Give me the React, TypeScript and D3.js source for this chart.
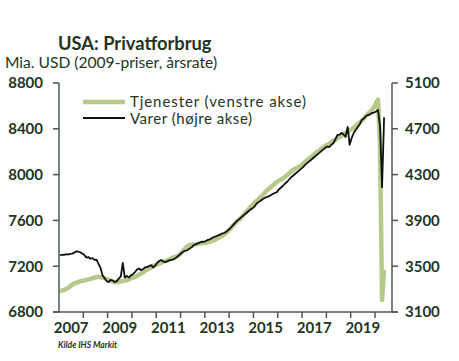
import React, { useRef, useEffect } from 'react';
import { select, scaleLinear, line } from 'd3';

// Monthly data, Jan 2007 - May 2020
const services: number[] = [
  6980, 6988, 6992, 7000, 7010, 7025, 7040, 7050, 7055, 7062, 7068, 7072, // 2007
  7075, 7080, 7085, 7090, 7095, 7100, 7105, 7108, 7104, 7100, 7095, 7088, // 2008
  7080, 7072, 7065, 7060, 7062, 7064, 7068, 7070, 7072, 7078, 7085, 7095, // 2009
  7100, 7106, 7115, 7125, 7135, 7145, 7160, 7170, 7180, 7190, 7200, 7210, // 2010
  7215, 7222, 7230, 7240, 7245, 7250, 7258, 7270, 7278, 7282, 7288, 7300, // 2011
  7320, 7340, 7360, 7375, 7385, 7388, 7390, 7392, 7395, 7398, 7400, 7403, // 2012
  7405, 7410, 7415, 7420, 7428, 7435, 7445, 7455, 7465, 7478, 7490, 7510, // 2013
  7525, 7545, 7565, 7585, 7600, 7615, 7635, 7655, 7675, 7695, 7715, 7735, // 2014
  7755, 7770, 7785, 7805, 7820, 7840, 7860, 7875, 7890, 7905, 7920, 7935, // 2015
  7945, 7955, 7965, 7980, 7995, 8010, 8025, 8040, 8050, 8060, 8070, 8080, // 2016
  8095, 8110, 8125, 8140, 8155, 8170, 8185, 8200, 8210, 8225, 8240, 8250, // 2017
  8260, 8270, 8285, 8295, 8305, 8320, 8330, 8340, 8355, 8365, 8375, 8390, // 2018
  8395, 8410, 8425, 8440, 8455, 8470, 8490, 8510, 8530, 8545, 8565, 8585, // 2019
  8625, 8655, 8250, 6905, 7170, // 2020
];

const goods: number[] = [
  3595, 3600, 3598, 3605, 3602, 3608, 3610, 3618, 3630, 3628, 3622, 3610, // 2007
  3598, 3575, 3580, 3565, 3570, 3555, 3558, 3520, 3485, 3420, 3395, 3370, // 2008
  3362, 3380, 3375, 3362, 3370, 3392, 3410, 3528, 3400, 3415, 3400, 3420, // 2009
  3430, 3449, 3470, 3480, 3465, 3475, 3490, 3495, 3500, 3510, 3490, 3505, // 2010
  3530, 3545, 3554, 3540, 3535, 3545, 3550, 3555, 3560, 3570, 3585, 3600, // 2011
  3615, 3630, 3635, 3640, 3655, 3665, 3685, 3690, 3700, 3705, 3715, 3712, // 2012
  3720, 3730, 3735, 3745, 3755, 3760, 3770, 3775, 3785, 3790, 3800, 3815, // 2013
  3830, 3850, 3870, 3890, 3905, 3920, 3935, 3950, 3965, 3980, 3995, 4005, // 2014
  4020, 4045, 4060, 4070, 4085, 4095, 4105, 4110, 4120, 4130, 4140, 4145, // 2015
  4170, 4185, 4200, 4220, 4235, 4255, 4275, 4290, 4305, 4320, 4335, 4350, // 2016
  4365, 4385, 4400, 4415, 4430, 4445, 4460, 4475, 4490, 4505, 4520, 4535, // 2017
  4545, 4541, 4560, 4576, 4610, 4646, 4650, 4663, 4650, 4628, 4716, 4560, // 2018
  4620, 4663, 4690, 4716, 4740, 4777, 4790, 4810, 4820, 4825, 4838, 4842, // 2019
  4850, 4864, 4720, 4190, 4800, // 2020
];

const yearTicks = [2008, 2009, 2010, 2011, 2012, 2013, 2014, 2015, 2016, 2017, 2018, 2019, 2020];
const yearLabels = ['2007', '2009', '2011', '2013', '2015', '2017', '2019'];
const leftTicks = [6800, 7200, 7600, 8000, 8400, 8800];
const rightTicks = [3100, 3500, 3900, 4300, 4700, 5100];

const W = 459;
const H = 361;
const TEXT = '#233423';
const AXIS = '#4b5a4b';
const GREEN = '#b6c98b';
const FONT = 'Lato, "Open Sans", sans-serif';

const App: React.FC = () => {
  const svgRef = useRef<SVGSVGElement>(null);

  useEffect(() => {
    if (!svgRef.current) return;
    const svg = select(svgRef.current);
    svg.selectAll('*').remove();

    const left = 59, right = 392, top = 83, bottom = 312;
    const x = scaleLinear().domain([0, 164.4]).range([left, right]);
    const yL = scaleLinear().domain([6800, 8800]).range([bottom, top]);
    const yR = scaleLinear().domain([3100, 5100]).range([bottom, top]);

    // title
    svg.append('text').attr('x', 58).attr('y', 50)
      .attr('font-family', FONT).attr('font-weight', 700).attr('font-size', 18.3)
      .attr('fill', TEXT).text('USA: Privatforbrug');
    svg.append('text').attr('x', 5).attr('y', 68)
      .attr('font-family', FONT).attr('font-size', 15.6)
      .attr('fill', TEXT).text('Mia. USD (2009-priser, årsrate)');

    const g = svg.append('g');

    // series
    const lineL = line<number>().x((_, i) => x(i + 0.5)).y(d => yL(d));
    const lineR = line<number>().x((_, i) => x(i + 0.5)).y(d => yR(d));
    g.append('path').attr('d', lineL(services) as string)
      .attr('fill', 'none').attr('stroke', GREEN).attr('stroke-width', 4.5)
      .attr('stroke-linejoin', 'round');
    g.append('path').attr('d', lineR(goods) as string)
      .attr('fill', 'none').attr('stroke', '#111').attr('stroke-width', 1.8)
      .attr('stroke-linejoin', 'round');

    // axes
    const ax = svg.append('g').attr('stroke', AXIS).attr('stroke-width', 1.5);
    ax.append('line').attr('x1', left).attr('x2', left).attr('y1', top).attr('y2', bottom);
    ax.append('line').attr('x1', right).attr('x2', right).attr('y1', top).attr('y2', bottom);
    ax.append('line').attr('x1', left - 6).attr('x2', right + 6).attr('y1', bottom).attr('y2', bottom);
    leftTicks.forEach(t => {
      ax.append('line').attr('x1', left - 6).attr('x2', left).attr('y1', yL(t)).attr('y2', yL(t));
    });
    rightTicks.forEach(t => {
      ax.append('line').attr('x1', right).attr('x2', right + 6).attr('y1', yR(t)).attr('y2', yR(t));
    });
    yearTicks.forEach(yr => {
      const px = x((yr - 2007) * 12);
      ax.append('line').attr('x1', px).attr('x2', px).attr('y1', bottom).attr('y2', bottom + 6);
    });

    const lab = svg.append('g').attr('font-family', FONT).attr('font-weight', 700)
      .attr('font-size', 15).attr('fill', TEXT);
    leftTicks.forEach(t => {
      lab.append('text').attr('x', 43).attr('y', yL(t)).attr('dy', '0.36em')
        .attr('text-anchor', 'end').text(String(t));
    });
    rightTicks.forEach(t => {
      lab.append('text').attr('x', 405).attr('y', yR(t)).attr('dy', '0.36em')
        .attr('text-anchor', 'start').text(String(t));
    });
    yearLabels.forEach(l => {
      const yr = +l;
      lab.append('text').attr('x', x((yr - 2007) * 12 + 6)).attr('y', 333)
        .attr('text-anchor', 'middle').text(l);
    });

    // legend
    const leg = svg.append('g').attr('font-family', FONT).attr('font-size', 15).attr('fill', TEXT);
    leg.append('line').attr('x1', 83).attr('x2', 125).attr('y1', 102).attr('y2', 102)
      .attr('stroke', GREEN).attr('stroke-width', 4.5);
    leg.append('text').attr('x', 130).attr('y', 101.5).attr('dy', '0.35em')
      .attr('textLength', 176).attr('lengthAdjust', 'spacing').text('Tjenester (venstre akse)');
    leg.append('line').attr('x1', 83).attr('x2', 125).attr('y1', 118).attr('y2', 118)
      .attr('stroke', '#111').attr('stroke-width', 1.8);
    leg.append('text').attr('x', 130).attr('y', 118.5).attr('dy', '0.35em')
      .attr('textLength', 122).attr('lengthAdjust', 'spacing').text('Varer (højre akse)');

    // source
    svg.append('text').attr('x', 58).attr('y', 348)
      .attr('font-family', FONT).attr('font-style', 'italic').attr('font-weight', 700)
      .attr('font-size', 8.5).attr('fill', TEXT).text('Kilde IHS Markit');
  }, []);

  return (
    <div style={{ position: 'absolute', left: 0, top: 0, width: W, height: H, background: '#fff' }}>
      <svg ref={svgRef} width={W} height={H} viewBox={`0 0 ${W} ${H}`}></svg>
    </div>
  );
};

export default App;
